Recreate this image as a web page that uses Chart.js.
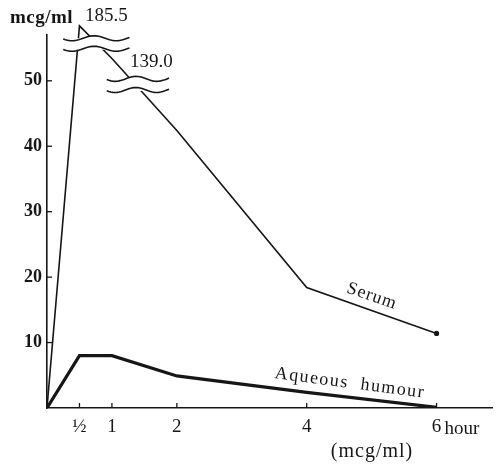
<!DOCTYPE html>
<html>
<head>
<meta charset="utf-8">
<script src="https://cdn.jsdelivr.net/npm/chart.js@4/dist/chart.umd.min.js"></script>
<style>
html, body { margin: 0; padding: 0; background: #fff; }
#wrap { width: 498px; height: 464px; }
</style>
</head>
<body>
<div id="wrap"><canvas id="chart"></canvas></div>
<script>
// hours after dosing
const hours = [0, 0.5, 1, 2, 4, 6];
// serum as drawn on the broken axis (true values at 1/2 h and 1 h are 185.5 and 139.0)
const serum = [0, 58.4, 53.4, 42.4, 18.4, 11.4];
const serumTrue = ['185.5', '139.0'];
const aqueous = [0, 8.0, 8.0, 4.9, 2.4, 0.1];

const xTicks = [0.5, 1, 2, 4, 6];
const xTickLabels = ['½', '1', '2', '4', '6'];
const yTicks = [10, 20, 30, 40, 50];

// axis break marks (hours, value)
const breaks = [
    {x0: 0.25, x1: 1.27, top: 56.5, bottom: 54.9},
    {x0: 0.92, x1: 1.88, top: 50.3, bottom: 48.6}
];

const ink = '#161616';
const serif = '"Liberation Serif", "DejaVu Serif", serif';

function points(ys) {
    return hours.map((h, i) => ({x: h, y: ys[i]}));
}

function wave(ctx, xa, xb, y, amp, moveFirst) {
    const n = 30;
    for (let i = 0; i <= n; i++) {
        const t = i / n;
        const x = xa + (xb - xa) * t;
        const yy = y + amp * Math.sin(Math.PI * 3 * t + 0.3);
        if (i === 0 && moveFirst) ctx.moveTo(x, yy); else ctx.lineTo(x, yy);
    }
}

const decor = {
    id: 'decor',
    afterDatasetsDraw(chart) {
        const ctx = chart.ctx;
        const xs = chart.scales.x, ys = chart.scales.y;
        ctx.save();

        // break marks
        breaks.forEach(b => {
            const xa = xs.getPixelForValue(b.x0), xb = xs.getPixelForValue(b.x1);
            const yt = ys.getPixelForValue(b.top), yb = ys.getPixelForValue(b.bottom);
            ctx.beginPath();
            wave(ctx, xa + 4, xb - 4, yt, 2.5, true);
            ctx.lineTo(xb - 4, yb);
            ctx.lineTo(xa + 4, yb);
            ctx.closePath();
            ctx.fillStyle = '#fff';
            ctx.fill();
            ctx.fillRect(xa + 4, yt, xb - xa - 8, yb - yt + 1);
            ctx.strokeStyle = ink;
            ctx.lineWidth = 1.6;
            ctx.beginPath(); wave(ctx, xa, xb, yt, 2.5, true); ctx.stroke();
            ctx.beginPath(); wave(ctx, xa, xb, yb, 2.5, true); ctx.stroke();
        });

        // tick marks
        ctx.strokeStyle = ink;
        ctx.lineWidth = 1.3;
        const x0 = xs.left, y0 = ys.bottom;
        yTicks.forEach(v => {
            const y = ys.getPixelForValue(v);
            ctx.beginPath(); ctx.moveTo(x0, y); ctx.lineTo(x0 + 5, y); ctx.stroke();
        });
        xTicks.forEach(v => {
            const x = xs.getPixelForValue(v);
            ctx.beginPath(); ctx.moveTo(x, y0); ctx.lineTo(x, y0 - 5); ctx.stroke();
        });

        // texts
        ctx.fillStyle = ink;
        ctx.textBaseline = 'alphabetic';
        ctx.textAlign = 'left';
        ctx.font = 'bold 19px ' + serif;
        ctx.letterSpacing = '0.5px';
        ctx.fillText('mcg/ml', 10, 23);
        ctx.letterSpacing = '0px';
        ctx.font = '19px ' + serif;
        ctx.fillText(serumTrue[0], 85, 21);
        ctx.fillText(serumTrue[1], 130, 67);
        ctx.font = '19px ' + serif;
        ctx.fillText('hour', xs.getPixelForValue(6) + 8, 434);
        ctx.textAlign = 'center';
        ctx.letterSpacing = '1px';
        ctx.font = '20px ' + serif;
        ctx.fillText('(mcg/ml)', 372, 457);

        ctx.save();
        ctx.translate(372, 296);
        ctx.rotate(19 * Math.PI / 180);
        ctx.font = '18px ' + serif;
        ctx.letterSpacing = '1px';
        ctx.fillText('Serum', 0, 5);
        ctx.restore();

        ctx.save();
        ctx.translate(350, 383);
        ctx.rotate(7.5 * Math.PI / 180);
        ctx.font = '18px ' + serif;
        ctx.letterSpacing = '1.5px';
        ctx.fillText('Aqueous  humour', 0, 5);
        ctx.restore();

        ctx.restore();
    }
};

new Chart(document.querySelector('#chart').getContext('2d'), {
    type: 'line',
    data: {
        datasets: [{
            label: 'Serum',
            data: points(serum),
            borderColor: ink,
            backgroundColor: ink,
            borderWidth: 1.6,
            pointRadius: [0, 0, 0, 0, 0, 1.8],
            clip: false
        }, {
            label: 'Aqueous humour',
            data: points(aqueous),
            borderColor: ink,
            borderWidth: 3.2,
            pointRadius: 0
        }]
    },
    options: {
        responsive: true,
        maintainAspectRatio: false,
        animation: false,
        layout: {padding: {top: 35, right: 3, left: 0, bottom: 0}},
        plugins: {legend: {display: false}, tooltip: {enabled: false}},
        scales: {
            x: {
                type: 'linear',
                min: 0,
                max: 6.86,
                grid: {display: false, drawTicks: false},
                border: {color: ink, width: 1.6},
                afterBuildTicks: s => { s.ticks = xTicks.map(v => ({value: v})); },
                afterFit: s => { s.height = 56; },
                ticks: {
                    autoSkip: false,
                    maxRotation: 0,
                    padding: 8,
                    color: ink,
                    font: {family: serif, size: 19},
                    callback: (v) => xTickLabels[xTicks.indexOf(v)]
                }
            },
            y: {
                min: 0,
                max: 57,
                grid: {display: false, drawTicks: false},
                border: {color: ink, width: 1.6},
                afterBuildTicks: s => { s.ticks = yTicks.map(v => ({value: v})); },
                afterFit: s => { s.width = 47; },
                ticks: {
                    padding: 5,
                    color: ink,
                    font: {family: serif, size: 18, weight: 'bold'}
                }
            }
        }
    },
    plugins: [decor]
});
</script>
</body>
</html>
